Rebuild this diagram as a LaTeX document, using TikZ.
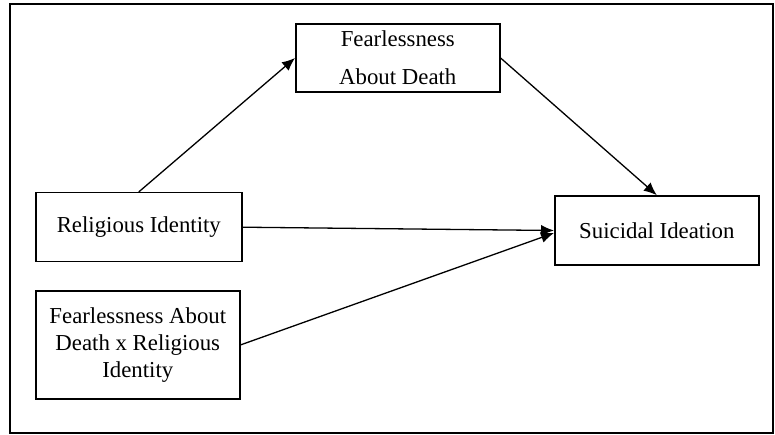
\documentclass[tikz,border=0pt]{standalone}
\usepackage{fontspec}
\setmainfont{Liberation Serif}
\usetikzlibrary{arrows.meta}
\tikzset{
  box/.style={draw=black, line width=1.6pt, align=center, inner sep=0pt,
    font=\fontsize{22.8}{27}\selectfont},
  arr/.style={draw=black, line width=1.3pt, -{Latex[length=13pt,width=11pt]}}
}
\begin{document}
\begin{tikzpicture}[x=1pt,y=-1pt]
\useasboundingbox (0,0) rectangle (775,435);
\draw[line width=1.6pt] (10,4) rectangle (773,433);
\node[box, minimum width=204pt, minimum height=68pt] (fad) at (397.8,58) {Fearlessness\\[11pt]About Death};
\node[box, minimum width=206pt, minimum height=69pt] (ri) at (138.8,227.2) {Religious Identity};
\node[box, minimum width=204pt, minimum height=108pt] (int) at (137.8,344.9) {Fearlessness About\\Death x Religious\\Identity};
\node[box, minimum width=204pt, minimum height=69pt] (si) at (656.8,230.5) {Suicidal Ideation};
\draw[arr] (ri.north) -- (fad.west);
\draw[arr] (fad.east) -- (si.north);
\draw[arr] (ri.east) -- (si.west);
\draw[arr] (int.east) -- ([yshift=-2.5pt]si.west);
\end{tikzpicture}
\end{document}
